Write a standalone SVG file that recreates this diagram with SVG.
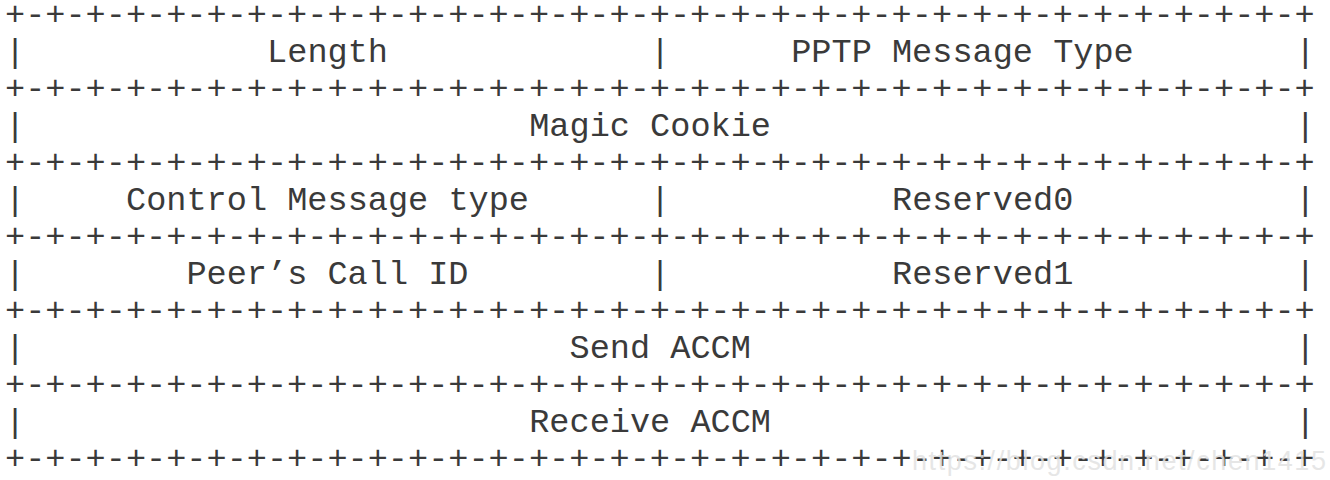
<svg xmlns="http://www.w3.org/2000/svg" width="1330" height="480" viewBox="0 0 1330 480">
<style>
.t{font-family:"Courier New","Liberation Mono",monospace;font-size:33.6px;fill:#3a3a3a;white-space:pre}
.wm{font-family:"Liberation Sans",Arial,sans-serif;font-size:27px;fill:#e2e2e2;fill-opacity:0.85}
</style>
<rect width="1330" height="480" fill="#ffffff"/>
<g id="connectors">
<text class="t" x="5" y="25" xml:space="preserve">+-+-+-+-+-+-+-+-+-+-+-+-+-+-+-+-+-+-+-+-+-+-+-+-+-+-+-+-+-+-+-+-+</text>
<text class="t" x="5" y="99" xml:space="preserve">+-+-+-+-+-+-+-+-+-+-+-+-+-+-+-+-+-+-+-+-+-+-+-+-+-+-+-+-+-+-+-+-+</text>
<text class="t" x="5" y="173" xml:space="preserve">+-+-+-+-+-+-+-+-+-+-+-+-+-+-+-+-+-+-+-+-+-+-+-+-+-+-+-+-+-+-+-+-+</text>
<text class="t" x="5" y="247" xml:space="preserve">+-+-+-+-+-+-+-+-+-+-+-+-+-+-+-+-+-+-+-+-+-+-+-+-+-+-+-+-+-+-+-+-+</text>
<text class="t" x="5" y="321" xml:space="preserve">+-+-+-+-+-+-+-+-+-+-+-+-+-+-+-+-+-+-+-+-+-+-+-+-+-+-+-+-+-+-+-+-+</text>
<text class="t" x="5" y="395" xml:space="preserve">+-+-+-+-+-+-+-+-+-+-+-+-+-+-+-+-+-+-+-+-+-+-+-+-+-+-+-+-+-+-+-+-+</text>
<text class="t" x="5" y="469" xml:space="preserve">+-+-+-+-+-+-+-+-+-+-+-+-+-+-+-+-+-+-+-+-+-+-+-+-+-+-+-+-+-+-+-+-+</text>
</g>
<g id="row1">
<text class="t" x="5" y="62">|</text>
<text class="t" x="267.1" y="62">Length</text>
<text class="t" x="650.1" y="62">|</text>
<text class="t" x="791.2" y="62">PPTP Message Type</text>
<text class="t" x="1295.2" y="62">|</text>
</g>
<g id="row2">
<text class="t" x="5" y="136">|</text>
<text class="t" x="529.2" y="136">Magic Cookie</text>
<text class="t" x="1295.2" y="136">|</text>
</g>
<g id="row3">
<text class="t" x="5" y="210">|</text>
<text class="t" x="126" y="210">Control Message type</text>
<text class="t" x="650.1" y="210">|</text>
<text class="t" x="892" y="210">Reserved0</text>
<text class="t" x="1295.2" y="210">|</text>
</g>
<g id="row4">
<text class="t" x="5" y="284">|</text>
<text class="t" x="186.4" y="284">Peer’s Call ID</text>
<text class="t" x="650.1" y="284">|</text>
<text class="t" x="892" y="284">Reserved1</text>
<text class="t" x="1295.2" y="284">|</text>
</g>
<g id="row5">
<text class="t" x="5" y="358">|</text>
<text class="t" x="569.5" y="358">Send ACCM</text>
<text class="t" x="1295.2" y="358">|</text>
</g>
<g id="row6">
<text class="t" x="5" y="432">|</text>
<text class="t" x="529.2" y="432">Receive ACCM</text>
<text class="t" x="1295.2" y="432">|</text>
</g>
<text class="wm" x="912" y="470" textLength="414">https://blog.csdn.net/chen1415</text>
</svg>
